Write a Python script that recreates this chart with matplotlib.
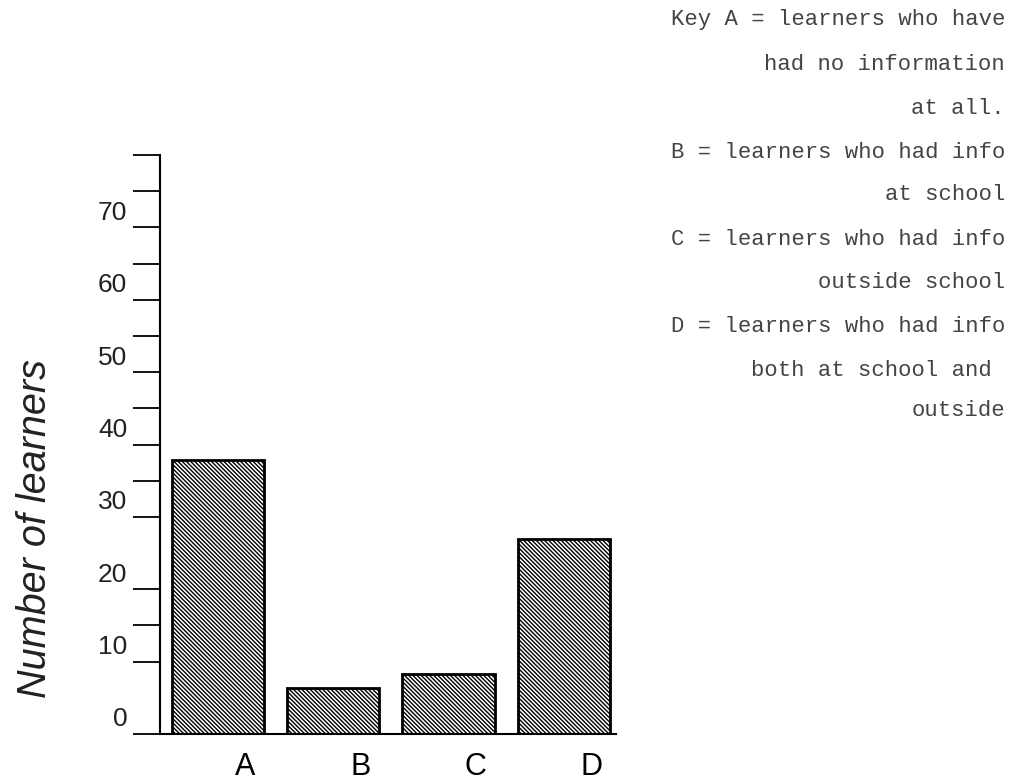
import matplotlib
matplotlib.use("Agg")
import matplotlib.pyplot as plt
import matplotlib.transforms as mtransforms

# data
groups = ["A", "B", "C", "D"]
learners = [37.9, 6.4, 8.3, 26.9]
label_ticks = [0, 10, 20, 30, 40, 50, 60, 70]
mark_ticks = [15, 35, 45, 55, 65, 75, 80]
key_lines = [
    "Key A = learners who have",
    "had no information",
    "at all.",
    "B = learners who had info",
    "at school",
    "C = learners who had info",
    "outside school",
    "D = learners who had info",
    "both at school and ",
    "outside",
]

plt.rcParams["hatch.linewidth"] = 1.0
plt.rcParams["font.family"] = ["Liberation Sans", "DejaVu Sans"]

fig = plt.figure(figsize=(10.12, 7.83), dpi=100)
ax = fig.add_axes([160 / 1012, 49 / 783, 456 / 1012, 579 / 783])

x = list(range(len(groups)))
ax.bar(x, learners, width=0.8, color="white", edgecolor="black",
       linewidth=2.0, hatch="\\" * 8)

ax.set_xlim(-0.5, 3.45)
ax.set_ylim(0, 80)

for side in ["top", "right"]:
    ax.spines[side].set_visible(False)
ax.spines["left"].set_linewidth(1.5)
ax.spines["bottom"].set_linewidth(1.5)

ax.set_yticks(label_ticks)
ax.set_yticks(mark_ticks, minor=True)
ax.tick_params(axis="y", which="both", direction="out", length=19.5,
               width=1.3, pad=4, labelsize=19, labelcolor="#222222")
ax.set_yticklabels([str(v) for v in label_ticks])
# hand drawn labels sit a bit above their tick
up = mtransforms.ScaledTranslation(0, 17 / 100, fig.dpi_scale_trans)
for lab in ax.get_yticklabels():
    lab.set_transform(lab.get_transform() + up)

ax.set_xticks(x)
ax.set_xticklabels(groups)
ax.tick_params(axis="x", length=0, pad=13, labelsize=22)
right = mtransforms.ScaledTranslation(27 / 100, 0, fig.dpi_scale_trans)
for lab in ax.get_xticklabels():
    lab.set_transform(lab.get_transform() + right)

fig.text(35 / 1012, 1 - 528 / 783, "Number of learners", rotation=90,
         style="italic", fontsize=28.5, ha="center", va="center",
         color="#222222")

line_y = [20, 65, 108, 152, 195, 240, 283, 327, 370, 410]
for txt, yy in zip(key_lines, line_y):
    fig.text(1005 / 1012, 1 - yy / 783, txt, ha="right", va="center",
             fontsize=16, family="Liberation Mono", color="#444444")

fig.savefig("out.png", dpi=100)
